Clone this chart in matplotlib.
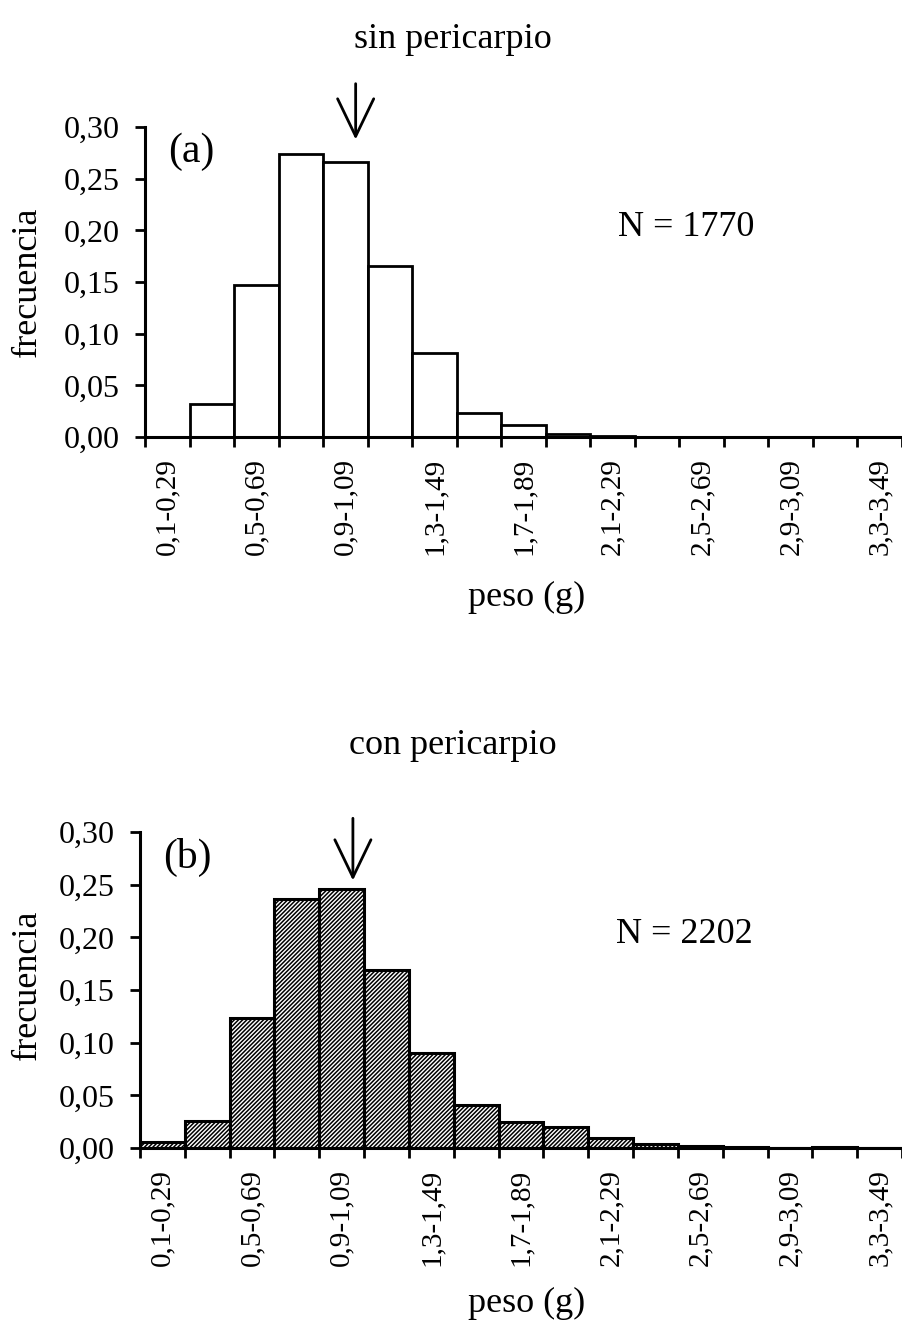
import numpy as np
import matplotlib.pyplot as plt

plt.rcParams['font.family'] = 'Liberation Serif'

# clases de peso (g)
clases = ['0,1-0,29', '0,3-0,49', '0,5-0,69', '0,7-0,89', '0,9-1,09',
          '1,1-1,29', '1,3-1,49', '1,5-1,69', '1,7-1,89', '1,9-2,09',
          '2,1-2,29', '2,3-2,49', '2,5-2,69', '2,7-2,89', '2,9-3,09',
          '3,1-3,29', '3,3-3,49']

# frecuencias relativas
sin_peric = [0.000, 0.032, 0.147, 0.274, 0.266, 0.166, 0.081, 0.023, 0.012,
             0.003, 0.001, 0.0005, 0, 0, 0, 0, 0]
con_peric = [0.006, 0.026, 0.123, 0.236, 0.246, 0.169, 0.090, 0.041, 0.025,
             0.020, 0.010, 0.004, 0.0017, 0.001, 0.0005, 0.001, 0]

n_sin = 1770
n_con = 2202
media_sin = 1.046   # posicion de la flecha (g)
media_con = 1.050

yticks = [0.00, 0.05, 0.10, 0.15, 0.20, 0.25, 0.30]


def peso_a_x(w):
    # cada clase mide 0,2 g y empieza en 0,1
    return (w - 0.1) / 0.2 - 0.5


def dibujar(ax, valores, letra, n, media, flecha, rayado):
    x = np.arange(len(clases))
    if rayado:
        ax.bar(x, valores, width=1.0, facecolor='white', edgecolor='black',
               linewidth=2.2, hatch='////////')
    else:
        ax.bar(x, valores, width=1.0, facecolor='white', edgecolor='black',
               linewidth=2.0)
    ax.set_xlim(-0.5, len(clases) - 0.5)
    ax.set_ylim(0, 0.30)
    ax.spines['top'].set_visible(False)
    ax.spines['right'].set_visible(False)
    ax.spines['left'].set_linewidth(2.2)
    ax.spines['bottom'].set_linewidth(2.2)

    ax.set_yticks(yticks)
    ax.set_yticklabels([f'{v:.2f}'.replace('.', ',') for v in yticks],
                       fontsize=23)
    ax.tick_params(axis='y', direction='out', length=7, width=2.0, pad=11)

    # marcas en los limites de clase, etiquetas cada dos clases
    ax.set_xticks(np.arange(len(clases) + 1) - 0.5)
    ax.set_xticklabels([])
    ax.tick_params(axis='x', which='major', direction='out', length=7,
                   width=2.0)
    ax.set_xticks(x[::2], minor=True)
    ax.set_xticklabels(clases[::2], minor=True, rotation=90, fontsize=21)
    ax.tick_params(axis='x', which='minor', length=0, pad=15)

    ax.text(0.03, 0.92, letra, transform=ax.transAxes, fontsize=30,
            ha='left', va='center')
    ax.text(0.715, 0.675, f'N = {n}', transform=ax.transAxes, fontsize=26,
            ha='center', va='center')

    xf = peso_a_x(media)
    ax.annotate('', xy=(xf, flecha[0]), xytext=(xf, flecha[1]),
                annotation_clip=False,
                arrowprops=dict(arrowstyle='->,head_length=27,head_width=13',
                                mutation_scale=1, lw=2.0, color='black',
                                shrinkA=0, shrinkB=0))


plt.rcParams['hatch.linewidth'] = 1.1

fig = plt.figure(figsize=(9.02, 13.28), dpi=100)
ax1 = fig.add_axes([0.1608, 0.6709, 0.8392, 0.2334])
ax2 = fig.add_axes([0.1552, 0.1355, 0.8448, 0.2380])

dibujar(ax1, sin_peric, '(a)', n_sin, media_sin, (0.288, 0.342), False)
dibujar(ax2, con_peric, '(b)', n_con, media_con, (0.254, 0.313), True)

fig.text(0.502, 0.970, 'sin pericarpio', fontsize=26, ha='center', va='center')
fig.text(0.502, 0.439, 'con pericarpio', fontsize=26, ha='center', va='center')

fig.text(0.030, 1 - 282 / 1328, 'frecuencia', fontsize=26, rotation=90,
         ha='center', va='center')
fig.text(0.030, 1 - 985 / 1328, 'frecuencia', fontsize=26, rotation=90,
         ha='center', va='center')
fig.text(527 / 902, 1 - 597 / 1328, 'peso (g)', fontsize=26,
         ha='center', va='center')
fig.text(527 / 902, 1 - 1303 / 1328, 'peso (g)', fontsize=26,
         ha='center', va='center')

fig.savefig('out.png', dpi=100, facecolor='white')
